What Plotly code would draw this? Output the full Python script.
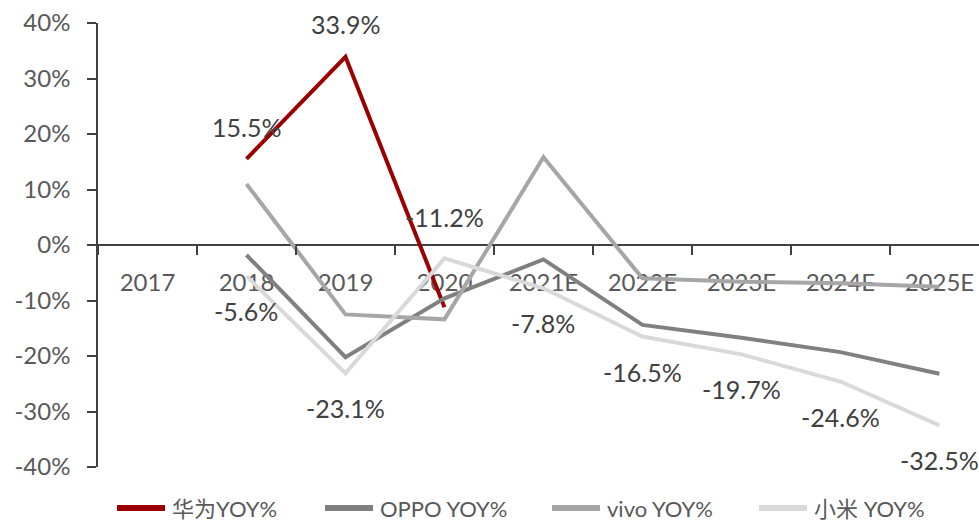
import plotly.graph_objects as go

categories = ["2017", "2018", "2019", "2020", "2021E", "2022E", "2023E", "2024E", "2025E"]
huawei = [None, 15.5, 33.9, -11.2, None, None, None, None, None]
oppo = [None, -1.8, -20.2, -9.6, -2.6, -14.4, -16.7, -19.3, -23.2]
vivo = [None, 11.0, -12.5, -13.4, 15.8, -6.0, -6.6, -6.9, -7.5]
xiaomi = [None, -5.6, -23.1, -2.4, -7.8, -16.5, -19.7, -24.6, -32.5]
y_ticks = [-40, -30, -20, -10, 0, 10, 20, 30, 40]
y_tick_text = [f"{v}%" for v in y_ticks]

FONT = "Lato, 'Noto Sans CJK SC', sans-serif"
TXT = "#404040"
GRAY = "#595959"

# plot-area geometry (page pixels) used for the hand-drawn legend
W, H = 979, 522
L, T, B, R = 98, 23, 55, 0
PW = W - L - R
PH = H - T - B

fig = go.Figure()
series = [
    ("华为YOY%", huawei, "#9B0000"),
    ("OPPO YOY%", oppo, "#808080"),
    ("vivo YOY%", vivo, "#A6A6A6"),
    ("小米 YOY%", xiaomi, "#D9D9D9"),
]
for name, vals, col in series:
    fig.add_trace(go.Scatter(x=list(range(len(categories))), y=vals, name=name, mode="lines",
                             line=dict(color=col, width=4), connectgaps=False,
                             showlegend=False))

annotations = []
hw_shift = {1: 32, 2: 33, 3: 90}
for i, v in enumerate(huawei):
    if v is not None:
        annotations.append(dict(x=i, y=v, text=f"{v:.1f}%", showarrow=False,
                                yshift=hw_shift[i], font=dict(size=25, color=TXT, family=FONT)))
for i, v in enumerate(xiaomi):
    if v is not None and i != 3:
        annotations.append(dict(x=i, y=v, text=f"{v:.1f}%", showarrow=False,
                                yshift=-35, font=dict(size=25, color=TXT, family=FONT)))

# custom legend (line samples + labels) below the plot area
shapes = []
leg_line_x = [117, 325, 552, 759]
leg_y = 508
ly = (H - B - leg_y) / PH
for (name, vals, col), lx in zip(series, leg_line_x):
    x0 = (lx - L) / PW
    x1 = (lx + 48 - L) / PW
    shapes.append(dict(type="line", xref="paper", yref="paper", x0=x0, x1=x1, y0=ly, y1=ly,
                       line=dict(color=col, width=6)))
    annotations.append(dict(xref="paper", yref="paper", x=(lx + 54 - L) / PW, y=ly,
                            xanchor="left", yanchor="middle", text=name, showarrow=False,
                            borderpad=0,
                            font=dict(size=22, color=GRAY, family=FONT)))

fig.update_layout(
    width=W, height=H,
    margin=dict(l=L, r=R, t=T, b=B, autoexpand=False),
    paper_bgcolor="white", plot_bgcolor="white",
    font=dict(family=FONT, color=TXT, size=24),
    showlegend=False,
    annotations=annotations,
    shapes=shapes,
    xaxis=dict(range=[-0.5, 8.4], tickvals=list(range(len(categories))), ticktext=categories,
               anchor="free", position=0.5,
               showline=True, linecolor="#404040", linewidth=1.5,
               ticks="", showgrid=False, zeroline=False, layer="below traces",
               tickfont=dict(size=24, color=GRAY, family=FONT), ticklabelstandoff=16,
               ticklabeloverflow="allow"),
    xaxis2=dict(range=[-0.5, 8.4], tickvals=[k + 0.5 for k in range(-1, len(categories))],
                showticklabels=False, anchor="free", position=0.5, overlaying="x",
                ticks="outside", ticklen=9, tickcolor="#404040", tickwidth=1.5,
                showgrid=False, zeroline=False, showline=False),
    yaxis=dict(range=[-40, 40], tickvals=y_ticks, ticktext=y_tick_text,
               showline=True, linecolor="#404040", linewidth=1.5,
               ticks="outside", ticklen=9, tickcolor="#404040", tickwidth=1.5,
               showgrid=False, zeroline=False,
               tickfont=dict(size=24, color=GRAY, family=FONT), ticklabelstandoff=12,
               ticklabeloverflow="allow"),
)
fig.add_trace(go.Scatter(x=[0], y=[None], xaxis="x2", showlegend=False, hoverinfo="skip"))

fig.write_html("out.html", config={"displayModeBar": False},
               post_script="document.body.style.margin='0';document.body.style.overflow='hidden';")
